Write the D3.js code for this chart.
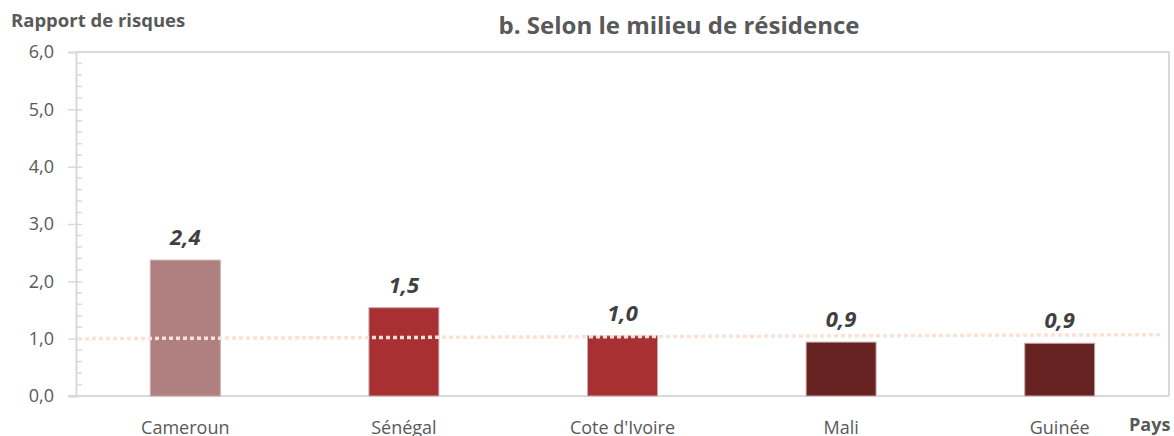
<!DOCTYPE html>
<html>
<head>
<meta charset="utf-8">
<script src="https://cdn.jsdelivr.net/npm/d3@7"></script>
<style>
  body { margin: 0; background: #fff; }
  svg { display: block; font-family: "Open Sans", "Noto Sans", sans-serif; }
</style>
</head>
<body>
<div id="chart"></div>
<script>
// --- DATA ---
const countries = ["Cameroun", "Sénégal", "Cote d'Ivoire", "Mali", "Guinée"];
const values = [2.37, 1.54, 1.05, 0.94, 0.92];
const labels = ["2,4", "1,5", "1,0", "0,9", "0,9"];
const barColors = ["#b07f80", "#a83033", "#a83033", "#672322", "#672322"];
const yTicks = [0, 1, 2, 3, 4, 5, 6];
const refLine = [1.0, 1.07]; // reference line at 1 (start, end)

// --- LAYOUT ---
const width = 1174, height = 436;
const margin = {top: 52, right: 5, bottom: 40, left: 76};
const plotRight = 1169;

const svg = d3.select("#chart").append("svg")
  .attr("width", width).attr("height", height);

const x = d3.scaleBand()
  .domain(countries)
  .range([margin.left, plotRight])
  .paddingInner(0.68)
  .paddingOuter(0.34);

const y = d3.scaleLinear()
  .domain([0, 6])
  .range([396, margin.top]);

const fmt = d => d3.format(".1f")(d).replace(".", ",");

// Frame (top and right)
svg.append("path")
  .attr("d", `M${margin.left},${y(6)}H${plotRight}V${y(0)}`)
  .attr("fill", "none")
  .attr("stroke", "#d9d9d9")
  .attr("stroke-width", 2);

// X axis baseline
svg.append("line")
  .attr("x1", margin.left - 8).attr("x2", plotRight)
  .attr("y1", y(0)).attr("y2", y(0))
  .attr("stroke", "#d9d9d9").attr("stroke-width", 2);

// Y axis
const yAxis = svg.append("g")
  .attr("transform", `translate(${margin.left},0)`)
  .call(d3.axisLeft(y).tickValues(yTicks).tickFormat(fmt).tickSize(8).tickPadding(14));
yAxis.select(".domain").attr("stroke", "#d9d9d9").attr("stroke-width", 2);
yAxis.selectAll(".tick line").attr("stroke", "#d9d9d9").attr("stroke-width", 1.5)
  .attr("x2", -8).attr("x1", 6);
yAxis.selectAll(".tick text")
  .attr("fill", "#595959").style("font-size", "18px")
  .style("font-family", "'Open Sans', sans-serif");

// Minor ticks every 0.2
const minor = d3.range(0, 6.01, 0.2).filter(v => Math.abs(v - Math.round(v)) > 0.01);
svg.append("g").selectAll("line")
  .data(minor).enter().append("line")
  .attr("x1", margin.left).attr("x2", margin.left + 6)
  .attr("y1", d => y(d)).attr("y2", d => y(d))
  .attr("stroke", "#d9d9d9").attr("stroke-width", 1.5);

// Bars
svg.append("g").selectAll("rect")
  .data(countries).enter().append("rect")
  .attr("x", d => x(d))
  .attr("width", x.bandwidth())
  .attr("y", (d, i) => y(values[i]))
  .attr("height", (d, i) => y(0) - y(values[i]))
  .attr("fill", (d, i) => barColors[i])
  .attr("stroke", "#c9a9aa")
  .attr("stroke-width", 1);

// Reference line
svg.append("line")
  .attr("x1", margin.left + 2).attr("x2", 1160)
  .attr("y1", y(refLine[0])).attr("y2", y(refLine[1]))
  .attr("stroke", "#fbe2d3")
  .attr("stroke-width", 3.5)
  .attr("stroke-dasharray", "4 3");

// Data labels
svg.append("g").selectAll("text")
  .data(countries).enter().append("text")
  .attr("x", d => x(d) + x.bandwidth() / 2)
  .attr("y", (d, i) => y(values[i]) - 15)
  .attr("text-anchor", "middle")
  .attr("fill", "#404040")
  .style("font-size", "22px")
  .style("font-weight", "bold")
  .style("font-style", "italic")
  .text((d, i) => labels[i]);

// Category labels
svg.append("g").selectAll("text")
  .data(countries).enter().append("text")
  .attr("x", d => x(d) + x.bandwidth() / 2)
  .attr("y", 434)
  .attr("text-anchor", "middle")
  .attr("fill", "#595959")
  .style("font-size", "18px")
  .text(d => d);

// Titles
svg.append("text")
  .attr("x", 679).attr("y", 34)
  .attr("text-anchor", "middle")
  .attr("fill", "#595959")
  .style("font-size", "24px")
  .style("font-weight", "bold")
  .text("b. Selon le milieu de résidence");

svg.append("text")
  .attr("x", 11).attr("y", 27)
  .attr("fill", "#595959")
  .style("font-size", "18.5px")
  .style("font-weight", "bold")
  .text("Rapport de risques");

svg.append("text")
  .attr("x", 1129).attr("y", 431)
  .attr("fill", "#595959")
  .style("font-size", "18px")
  .style("font-weight", "bold")
  .text("Pays");
</script>
</body>
</html>
